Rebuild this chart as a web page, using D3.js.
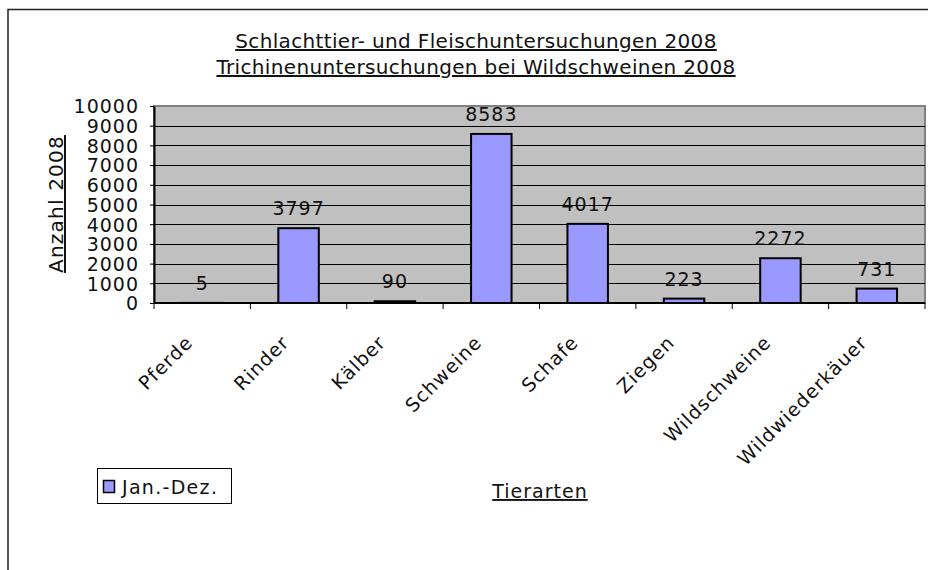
<!DOCTYPE html>
<html>
<head>
<meta charset="utf-8">
<script src="https://cdn.jsdelivr.net/npm/d3@7"></script>
<style>
  body { margin: 0; background: #fff; }
  text { font-family: "DejaVu Sans", Verdana, sans-serif; fill: #111; }
</style>
</head>
<body>
<script>
// DATA

var categories = ["Pferde", "Rinder", "Kälber", "Schweine", "Schafe", "Ziegen", "Wildschweine", "Wildwiederkäuer"];
var values = [5, 3797, 90, 8583, 4017, 223, 2272, 731];
var yTicks = [0, 1000, 2000, 3000, 4000, 5000, 6000, 7000, 8000, 9000, 10000];
var titleLines = ["Schlachttier- und Fleischuntersuchungen 2008", "Trichinenuntersuchungen bei Wildschweinen 2008"];
var seriesName = "Jan.-Dez.";

// CHART STRUCTURE

var svgWidth = 928;
var svgHeight = 570;
var margin = {top: 106, right: 3, bottom: 267, left: 154};
var chartWidth = svgWidth - margin.left - margin.right;
var chartHeight = svgHeight - margin.top - margin.bottom;

var svg = d3.select("body")
  .append("svg")
  .attr("width", svgWidth)
  .attr("height", svgHeight);

// OUTER FRAME

svg.append("path")
  .attr("d", "M8,570 V9.5 H928")
  .attr("fill", "none")
  .attr("stroke", "#222")
  .attr("stroke-width", 1.5);

// TITLE

svg.selectAll(".title")
  .data(titleLines)
  .enter()
  .append("text")
  .attr("class", "title")
  .attr("x", 476)
  .attr("y", (d, i) => 48 + i * 26)
  .attr("text-anchor", "middle")
  .attr("font-size", 20)
  .attr("letter-spacing", 0.35)
  .attr("text-decoration", "underline")
  .text(d => d);

var chartGroup = svg.append("g")
  .attr("transform", `translate(${margin.left}, ${margin.top})`);

// SCALES

var xScale = d3.scaleBand().domain(categories).range([0, chartWidth]);
var yScale = d3.scaleLinear().domain([0, 10000]).range([chartHeight, 0]);
var barWidth = xScale.step() * 0.42;

// PLOT AREA

chartGroup.append("rect")
  .attr("width", chartWidth)
  .attr("height", chartHeight)
  .attr("fill", "#c0c0c0")
  .attr("stroke", "#808080")
  .attr("stroke-width", 2);

// GRIDLINES

chartGroup.selectAll(".grid")
  .data(yTicks.slice(1, -1))
  .enter()
  .append("line")
  .attr("x1", 0)
  .attr("x2", chartWidth)
  .attr("y1", d => Math.round(yScale(d)) + 0.5)
  .attr("y2", d => Math.round(yScale(d)) + 0.5)
  .attr("stroke", "#000")
  .attr("stroke-width", 1);

// BARS

chartGroup.selectAll(".bar")
  .data(values)
  .enter()
  .append("rect")
  .attr("x", (d, i) => xScale(categories[i]) + (xScale.step() - barWidth) / 2)
  .attr("y", d => yScale(d))
  .attr("width", barWidth)
  .attr("height", d => chartHeight - yScale(d))
  .attr("fill", "#9999ff")
  .attr("stroke", "#000")
  .attr("stroke-width", 2);

// DATA LABELS

chartGroup.selectAll(".label")
  .data(values)
  .enter()
  .append("text")
  .attr("x", (d, i) => xScale(categories[i]) + xScale.step() / 2)
  .attr("y", d => yScale(d) - 13)
  .attr("text-anchor", "middle")
  .attr("font-size", 19)
  .attr("letter-spacing", 1)
  .text(d => d);

// AXES

var yAxis = d3.axisLeft(yScale)
  .tickValues(yTicks)
  .tickFormat(d3.format("d"))
  .tickSize(4)
  .tickSizeOuter(0)
  .tickPadding(11);
var yAxisG = chartGroup.append("g").call(yAxis);
yAxisG.select(".domain").attr("stroke", "#000").attr("stroke-width", 2);
yAxisG.selectAll("text")
  .attr("font-size", 19)
  .attr("font-family", "DejaVu Sans")
  .attr("letter-spacing", 1)
  .attr("fill", "#111")
  .attr("dy", "0.36em");

var xAxisG = chartGroup.append("g").attr("transform", `translate(0, ${chartHeight})`);
xAxisG.append("line")
  .attr("x1", 0)
  .attr("x2", chartWidth)
  .attr("stroke", "#000")
  .attr("stroke-width", 2);
xAxisG.selectAll(".xtick")
  .data(d3.range(categories.length + 1))
  .enter()
  .append("line")
  .attr("x1", i => i * xScale.step())
  .attr("x2", i => i * xScale.step())
  .attr("y1", 0)
  .attr("y2", 6)
  .attr("stroke", "#000");

xAxisG.selectAll(".xlabel")
  .data(categories)
  .enter()
  .append("text")
  .attr("transform", d => `translate(${xScale(d) + xScale.step() / 2 - 18}, 31) rotate(-45)`)
  .attr("text-anchor", "end")
  .attr("dy", "0.72em")
  .attr("font-size", 19)
  .attr("letter-spacing", 1)
  .text(d => d);

// AXIS TITLES

svg.append("text")
  .attr("transform", "translate(63, 204) rotate(-90)")
  .attr("text-anchor", "middle")
  .attr("font-size", 20)
  .attr("letter-spacing", 1.2)
  .attr("text-decoration", "underline")
  .text("Anzahl 2008");

svg.append("text")
  .attr("x", 540)
  .attr("y", 498)
  .attr("text-anchor", "middle")
  .attr("font-size", 19)
  .attr("letter-spacing", 1)
  .attr("text-decoration", "underline")
  .text("Tierarten");

// LEGEND

var legend = svg.append("g").attr("transform", "translate(97, 468)");
legend.append("rect")
  .attr("x", 0.5)
  .attr("y", 0.5)
  .attr("width", 134)
  .attr("height", 35)
  .attr("fill", "#fff")
  .attr("stroke", "#000");
legend.append("rect")
  .attr("x", 6.5)
  .attr("y", 12.5)
  .attr("width", 11)
  .attr("height", 12)
  .attr("fill", "#9999ff")
  .attr("stroke", "#000")
  .attr("stroke-width", 1.5);
legend.append("text")
  .attr("x", 25)
  .attr("y", 26)
  .attr("font-size", 19)
  .attr("letter-spacing", 1.3)
  .text(seriesName);
</script>
</body>
</html>
